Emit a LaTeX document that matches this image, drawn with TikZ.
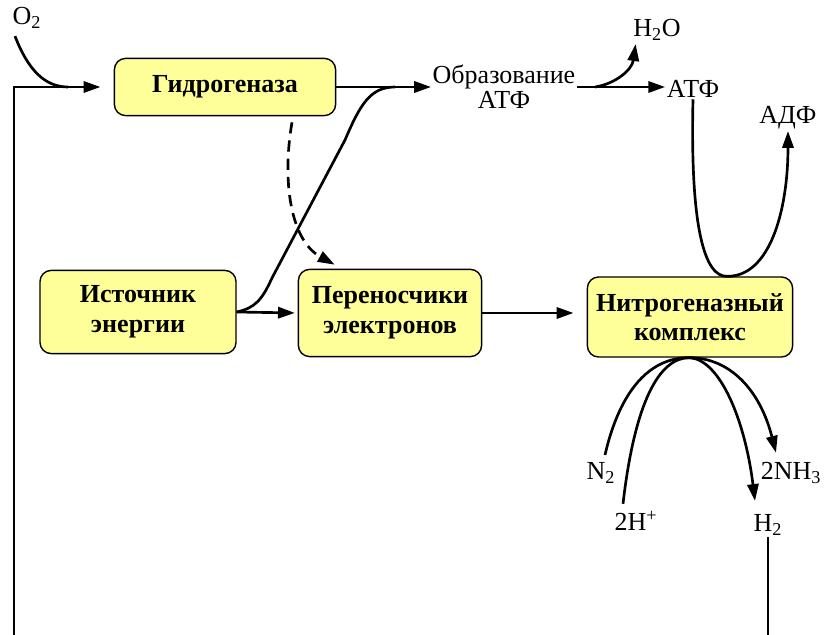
\documentclass[tikz,border=0pt]{standalone}
\usepackage{fontspec}
\setmainfont{Liberation Serif}
\usetikzlibrary{arrows.meta,calc}
\definecolor{boxyellow}{RGB}{255,255,153}

\begin{document}
\begin{tikzpicture}[x=0.025cm,y=-0.025cm,
    box/.style={draw,line width=1pt,rounded corners=8,fill=boxyellow,align=center,inner sep=0pt,
      font=\fontsize{18.5}{21}\selectfont\bfseries},
    lbl/.style={inner sep=1pt,font=\fontsize{18.5}{18}\selectfont},
    wire/.style={line width=1.9pt},
    flow/.style={wire,-{Triangle[length=12pt,width=8pt]}}]
        \useasboundingbox (0,0) rectangle (830,635);

        \node[box,minimum width=5.53cm,minimum height=1.43cm] (hyd) at (225,87) {Гидрогеназа};
        \node[box,minimum width=4.9cm,minimum height=2.08cm] (src) at (138,312) {Источник\\энергии};
        \node[box,minimum width=4.58cm,minimum height=2.18cm] (car) at (390,313) {Переносчики\\электронов};
        \node[box,minimum width=5.13cm,minimum height=2cm] (nit) at (690,317) {Нитрогеназный\\комплекс};

        \node[lbl] (o2) at (27,18) {O\textsubscript{2}};
        \node[lbl,align=center] (atp1) at (504,87) {Образование\\АТФ};
        \node[lbl] (h2o) at (657,30) {H\textsubscript{2}O};
        \node[lbl] (atp2) at (693,89) {АТФ};
        \node[lbl] (adp) at (788,118) {АДФ};
        \node[lbl] (n2) at (601,473) {N\textsubscript{2}};
        \node[lbl] (hp) at (636,521) {2H\textsuperscript{+}};
        \node[lbl] (nh3) at (791,473) {2NH\textsubscript{3}};
        \node[lbl] (h2) at (768,525) {H\textsubscript{2}};

        \coordinate (bl) at (14,635);
        \coordinate (br) at (768,635);

        \draw[flow,shorten >=0.33cm] (bl) |- (hyd.west);
        \draw[wire] ($(o2.south)+(-12,6)$) .. controls (28,70) and (45,87) .. (68,87);
        \draw[flow] (hyd.east) -- (hyd.east -| atp1.west);
        \draw[wire] (src.east) .. controls (255,308) and (262,300) .. (272,278) -- (345,140)
          .. controls (360,105) and (370,87) .. (395,87);
        \draw[flow,dashed,dash pattern=on 8pt off 5pt] ($(hyd.south)+(67,6)$) .. controls (282,180) and (290,240) .. ($(car.north west)+(37,-4)$);
        \draw[flow,shorten >=2pt] (src.east) -- (car.west);
        \draw[flow,shorten >=0.33cm] (car.east) -- (car.east -| nit.west);

        \draw[flow] (atp1.east) -- (atp1.east -| atp2.west);
        \draw[flow] ($(atp1.east)+(18,0)$) .. controls (615,84) and (632,70) .. ($(h2o.south west)+(4,2)$);
        \draw[flow] (atp2.south) .. controls (690,230) and (705,277) .. ($(nit.north)+(37,0)$)
          .. controls (770,277) and (788,210) .. (adp.south);

        \draw[wire] ($(n2.north)+(4,-6)$) .. controls (620,390) and (650,357) .. (nit.south);
        \draw[wire] ($(hp.north)+(-13,-6)$) .. controls (635,400) and (660,357) .. (nit.south);
        \draw[flow] (nit.south) .. controls (730,358) and (760,390) .. ($(nh3.north)+(-15,-8)$);
        \draw[flow] (nit.south) .. controls (720,360) and (745,420) .. ($(h2.north)+(-13,-12)$);
        \draw[wire] (h2.south) -- (br);
      \end{tikzpicture}
\end{document}
